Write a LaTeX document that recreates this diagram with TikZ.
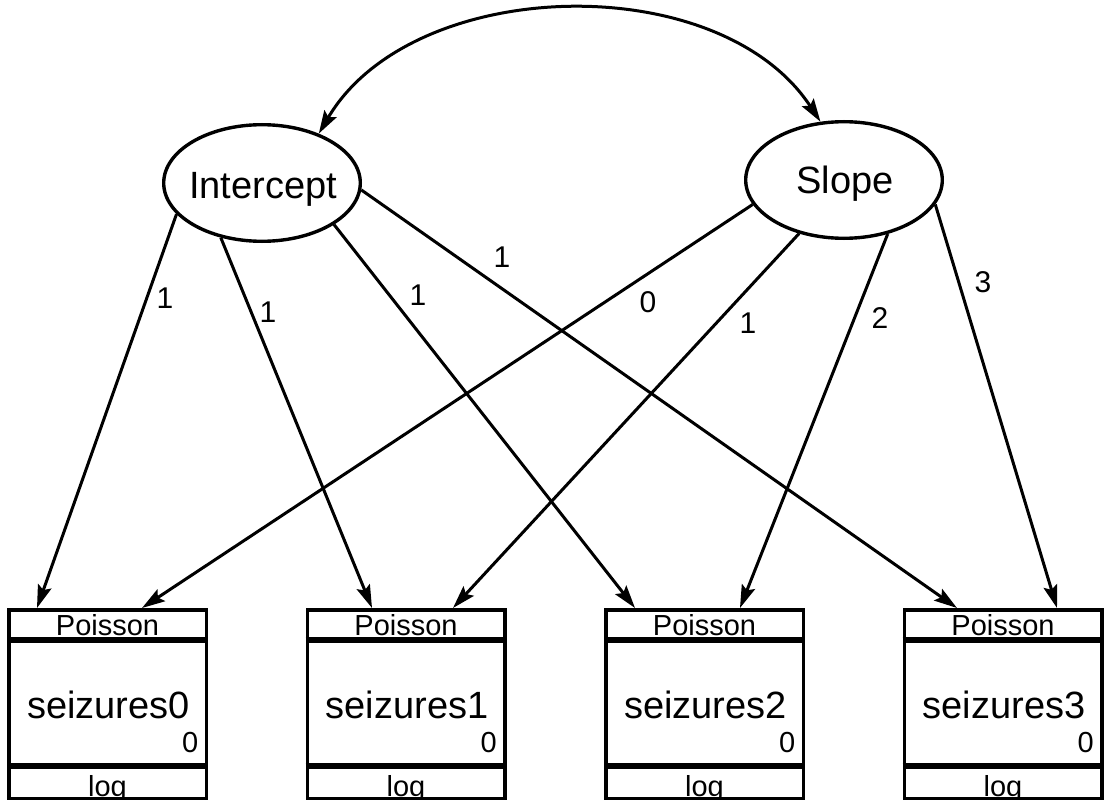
\documentclass[tikz,border=0pt]{standalone}
\usepackage{fontspec}
\setmainfont{Liberation Sans}
\usetikzlibrary{arrows.meta,calc,shapes.geometric}
\newcommand\obsbox[3]{%
  \node[obs] (#1) at (#2,704) {};
  \draw[divider] ([yshift=-32pt]#1.north west) -- ([yshift=-32pt]#1.north east);
  \draw[divider] ([yshift=34.5pt]#1.south west) -- ([yshift=34.5pt]#1.south east);
  \node[small, anchor=base] (#1p) at ($(#1.north)+(0,27)$) {Poisson};
  \node[big, anchor=base] (#1t) at ($(#1.center)+(1,14)$) {#3};
  \node[small, anchor=base east] (#1z) at ($(#1.center)+(91,48)$) {0};
  \begin{scope}
    \clip ($(#1.south west)+(0,-32)$) rectangle ($(#1.south east)+(0,-2)$);
    \node[small, anchor=base] (#1l) at ($(#1.south)+(0,-4)$) {log};
  \end{scope}
}
\begin{document}
\begin{tikzpicture}[x=1pt,y=-1pt,
  latent/.style={draw, ellipse, line width=3.4pt, minimum width=196.6pt, minimum height=116.6pt, inner sep=0pt},
  obs/.style={draw, rectangle, line width=3.5pt, minimum width=197.5pt, minimum height=188.5pt, inner sep=0pt},
  tipstyle/.tip={Stealth[length=23pt,width=14pt,inset=4pt]},
  path/.style={line width=3pt, -tipstyle},
  cov/.style={line width=3pt, tipstyle-tipstyle},
  big/.style={font=\fontsize{38}{44}\selectfont, inner sep=0pt},
  small/.style={font=\fontsize{29}{34}\selectfont, inner sep=0pt},
  coef/.style={font=\fontsize{30}{36}\selectfont, inner sep=0pt},
  divider/.style={line width=6pt}]
\useasboundingbox (0,0) rectangle (1104,808);

% latent variables
\node[latent] (I) at (262,183) {};
\node[big, anchor=base] (Itxt) at ($(I.center)+(1,15)$) {Intercept};
\node[latent] (S) at (844,180) {};
\node[big, anchor=base] (Stxt) at ($(S.center)+(1,13)$) {Slope};

% observed variables
\obsbox{s0}{107.5}{seizures0}
\obsbox{s1}{406}{seizures1}
\obsbox{s2}{704.5}{seizures2}
\obsbox{s3}{1003}{seizures3}

% covariance
\draw[cov] (I.41.6) .. controls (412,-25) and (719,-33) .. (S.112);

% paths from Intercept
\draw[path] (I.200.9) -- ([xshift=-70.5pt]s0.north);
\draw[path] (I.233.6) -- ([xshift=-34pt]s1.north);
\draw[path] (I.330.6) -- ([xshift=-69.5pt]s2.north);
\draw[path] (I.356.6) -- ([xshift=-46pt]s3.north);
% paths from Slope
\draw[path] (S.195.2) -- ([xshift=34.5pt]s0.north);
\draw[path] (S.230.5) -- ([xshift=47pt]s1.north);
\draw[path] (S.309.9) -- ([xshift=35.5pt]s2.north);
\draw[path] (S.345.4) -- ([xshift=54pt]s3.north);

% coefficients
\node[coef] (c1) at (165,298) {1};
\node[coef] (c2) at (268,312) {1};
\node[coef] (c3) at (418,295) {1};
\node[coef] (c4) at (502,257) {1};
\node[coef] (c5) at (648,302) {0};
\node[coef] (c6) at (748,323) {1};
\node[coef] (c7) at (880,318) {2};
\node[coef] (c8) at (983,282) {3};
\end{tikzpicture}
\end{document}
